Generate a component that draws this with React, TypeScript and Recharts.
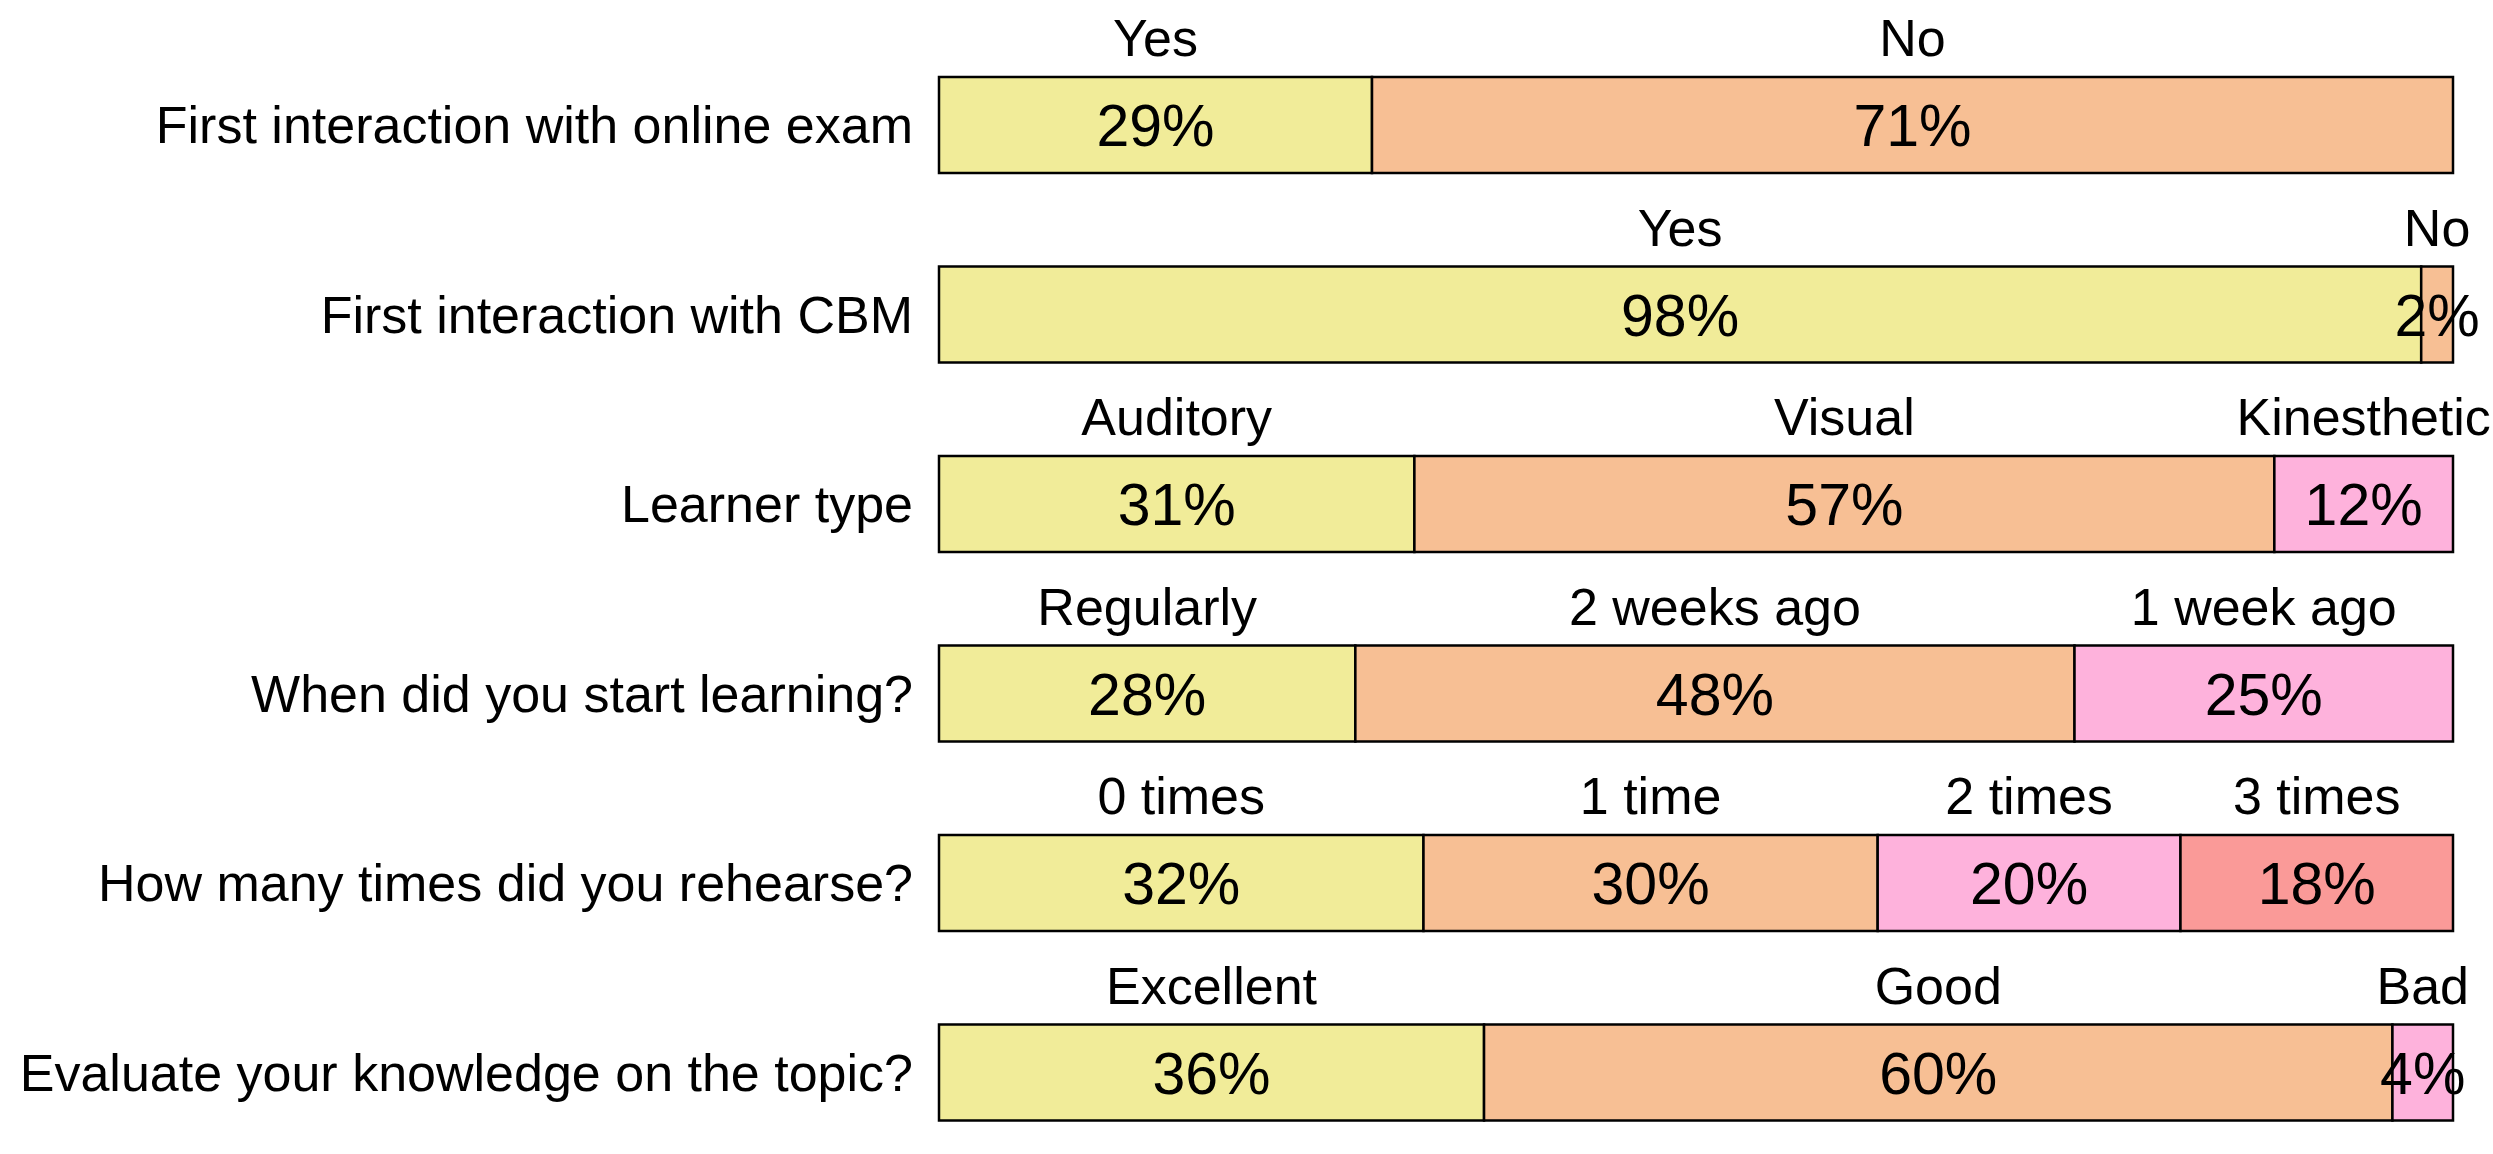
import React from "react";
import { Bar, BarChart, LabelList, XAxis, YAxis } from "recharts";

const questions = [
  "First interaction with online exam",
  "First interaction with CBM",
  "Learner type",
  "When did you start learning?",
  "How many times did you rehearse?",
  "Evaluate your knowledge on the topic?",
];

const answers = [
  ["Yes", "No"],
  ["Yes", "No"],
  ["Auditory", "Visual", "Kinesthetic"],
  ["Regularly", "2 weeks ago", "1 week ago"],
  ["0 times", "1 time", "2 times", "3 times"],
  ["Excellent", "Good", "Bad"],
];

const shares = [
  [28.6, 71.4],
  [97.9, 2.1],
  [31.4, 56.8, 11.8],
  [27.5, 47.5, 25],
  [32, 30, 20, 18],
  [36, 60, 4],
];

const segmentColors = ["#f1ec99", "#f7bf94", "#feb2dc", "#fa9a98"];
const segmentKeys = ["s0", "s1", "s2", "s3"];

const font = "'Liberation Sans', Arial, sans-serif";

const rows = questions.map((q, i) => {
  const row: Record<string, string | number> = { q };
  shares[i].forEach((v, j) => {
    row[`s${j}`] = v;
    row[`n${j}`] = answers[i][j];
  });
  return row;
});

function box(props: any) {
  const vb = props.viewBox ?? {};
  return {
    x: props.x ?? vb.x,
    y: props.y ?? vb.y,
    w: props.width ?? vb.width,
    h: props.height ?? vb.height,
  };
}

const PercentLabel = (props: any) => {
  const { x, y, w, h } = box(props);
  if (props.value == null || x == null) return null;
  return (
    <text
      x={x + w / 2}
      y={y + h / 2 + 21}
      textAnchor="middle"
      fontSize={59}
      fontFamily={font}
      fill="#000"
    >
      {Math.round(Number(props.value))}%
    </text>
  );
};

const AnswerLabel = (props: any) => {
  const { x, y, w } = box(props);
  if (props.value == null || x == null) return null;
  return (
    <text
      x={x + w / 2}
      y={y - 21}
      textAnchor="middle"
      fontSize={52}
      fontFamily={font}
      fill="#000"
    >
      {props.value}
    </text>
  );
};

export default function App() {
  return (
    <div
      style={{
        position: "absolute",
        left: 0,
        top: 0,
        width: 2493,
        height: 1154,
        overflow: "hidden",
        background: "#fff",
      }}
    >
      <BarChart
        width={2493}
        height={1154}
        data={rows}
        layout="vertical"
        margin={{ top: 30, right: 40, left: 0, bottom: -13 }}
        barSize={96}
      >
        <XAxis type="number" domain={[0, 100]} hide />
        <YAxis
          type="category"
          dataKey="q"
          width={939}
          axisLine={false}
          tickLine={false}
          tickMargin={20}
          tick={{ fill: "#000", fontSize: 52, fontFamily: font }}
        />
        {segmentKeys.map((k, j) => (
          <Bar
            key={k}
            dataKey={k}
            stackId="a"
            fill={segmentColors[j]}
            stroke="#000"
            strokeWidth={2.5}
            isAnimationActive={false}
          >
            <LabelList dataKey={k} content={PercentLabel} />
            <LabelList dataKey={`n${j}`} content={AnswerLabel} />
          </Bar>
        ))}
      </BarChart>
    </div>
  );
}
